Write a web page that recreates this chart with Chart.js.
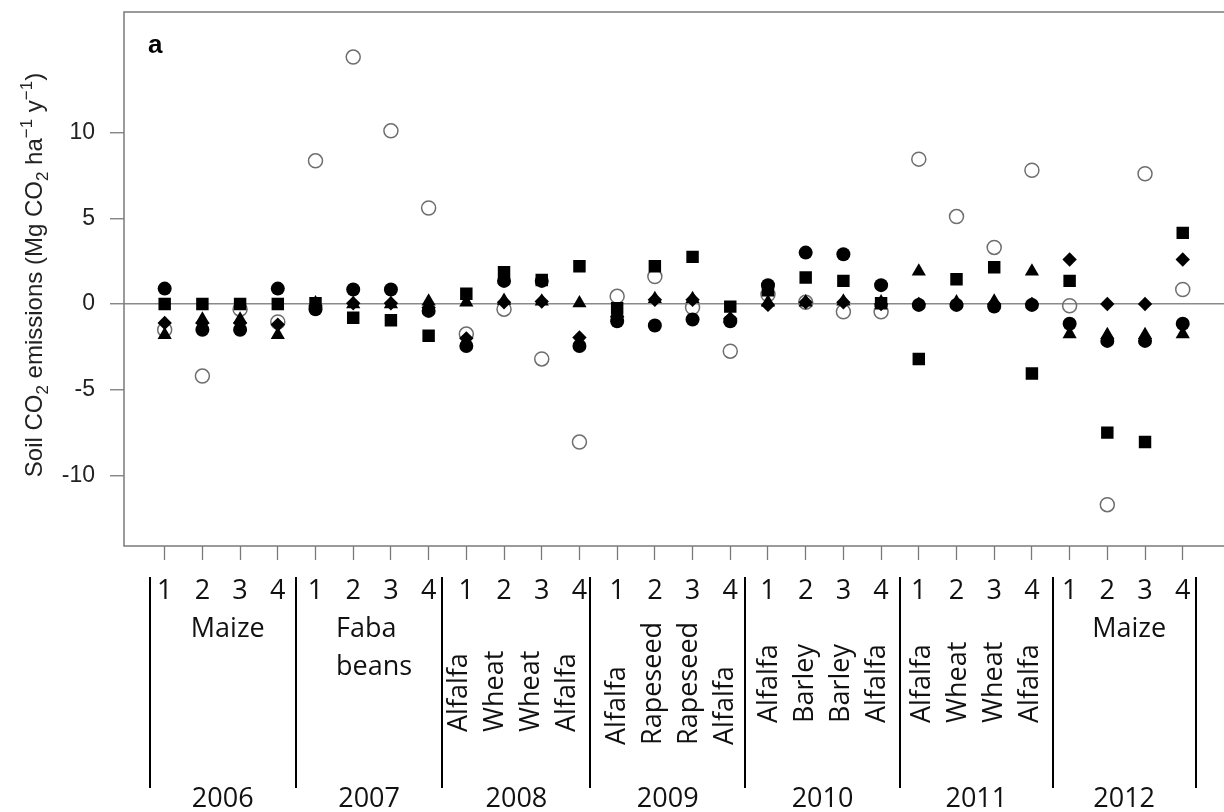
<!DOCTYPE html>
<html>
<head>
<meta charset="utf-8">
<script src="https://cdn.jsdelivr.net/npm/chart.js@4/dist/chart.umd.min.js"></script>
<style>
html, body { margin: 0; padding: 0; background: #fff; overflow: hidden; }
#wrap { position: relative; width: 1260px; height: 812px; }
</style>
</head>
<body>
<div id="wrap"><canvas id="chart"></canvas></div>
<script>
// categories: 7 years x 4 quarters
const years = ['2006', '2007', '2008', '2009', '2010', '2011', '2012'];
const quarters = ['1', '2', '3', '4'];
const crops = [
    'Maize', 'Maize', 'Maize', 'Maize',
    'Faba beans', 'Faba beans', 'Faba beans', 'Faba beans',
    'Alfalfa', 'Wheat', 'Wheat', 'Alfalfa',
    'Alfalfa', 'Rapeseed', 'Rapeseed', 'Alfalfa',
    'Alfalfa', 'Barley', 'Barley', 'Alfalfa',
    'Alfalfa', 'Wheat', 'Wheat', 'Alfalfa',
    'Maize', 'Maize', 'Maize', 'Maize'
];

// series values (Mg CO2 ha-1 y-1), one per quarter
const openCircle = [-1.5, -4.2, -0.3, -1.05, 8.35, 14.4, 10.1, 5.6, -1.75, -0.3, -3.2, -8.05, 0.45, 1.6,
    -0.2, -2.75, 0.55, 0.1, -0.45, -0.45, 8.45, 5.1, 3.3, 7.8, -0.1, -11.7, 7.6, 0.85];
const filledCircle = [0.9, -1.5, -1.5, 0.9, -0.3, 0.85, 0.85, -0.4, -2.45, 1.35, 1.35, -2.45, -1.0, -1.25,
    -0.9, -1.0, 1.1, 3.0, 2.9, 1.1, -0.05, -0.05, -0.15, -0.05, -1.15, -2.15, -2.15, -1.15];
const filledSquare = [0.0, 0.0, 0.0, 0.0, 0.05, -0.8, -0.95, -1.85, 0.6, 1.85, 1.4, 2.2, -0.25, 2.2,
    2.75, -0.15, 0.8, 1.55, 1.35, 0.05, -3.2, 1.45, 2.15, -4.05, 1.35, -7.5, -8.05, 4.15];
const filledTriangle = [-1.8, -0.9, -0.9, -1.8, 0.05, 0.0, 0.0, 0.15, 0.1, 0.2, 0.15, 0.05, -0.5, 0.3,
    0.3, -0.85, 0.1, 0.1, 0.15, 0.1, 1.9, 0.1, 0.15, 1.9, -1.75, -1.8, -1.8, -1.75];
const filledDiamond = [-1.1, -1.1, -1.1, -1.2, -0.1, 0.05, 0.05, -0.2, -2.0, 0.1, 0.15, -1.95, -0.75, 0.25,
    0.25, -0.85, -0.05, 0.1, 0.1, 0.0, 0.0, 0.0, 0.0, 0.0, 2.6, 0.0, 0.0, 2.6];

const yTicks = [-10, -5, 0, 5, 10];

const toPoints = arr => arr.map((v, i) => ({ x: i, y: v }));

const FONT_AXIS = '"Liberation Sans", Arial, sans-serif';
const FONT_TABLE = '"Open Sans", sans-serif';

// extra drawing: frame, panel letter, y title with sub/superscripts, crop table below the axis
const decorPlugin = {
    id: 'decor',
    afterDraw(chart) {
        const ctx = chart.ctx;
        const area = chart.chartArea;
        const xs = chart.scales.x;
        const px = v => xs.getPixelForValue(v);

        ctx.save();
        ctx.strokeStyle = '#7a7a7a';
        ctx.lineWidth = 1.5;
        ctx.strokeRect(area.left, area.top, area.right - area.left, area.bottom - area.top);

        ctx.fillStyle = '#000';
        ctx.font = 'bold 26px ' + FONT_AXIS;
        ctx.textAlign = 'left';
        ctx.textBaseline = 'alphabetic';
        ctx.fillText('a', 148, 53);

        // y axis title
        const parts = [
            { t: 'Soil CO', s: 0 }, { t: '2', s: 1 }, { t: ' emissions (Mg CO', s: 0 }, { t: '2', s: 1 },
            { t: ' ha', s: 0 }, { t: '\u22121', s: -1 }, { t: ' y', s: 0 }, { t: '\u22121', s: -1 }, { t: ')', s: 0 }
        ];
        const fontFor = p => (p.s === 0 ? '24px ' : '17px ') + FONT_AXIS;
        let total = 0;
        parts.forEach(p => { ctx.font = fontFor(p); total += ctx.measureText(p.t).width; });
        ctx.translate(42, 275 + total / 2);
        ctx.rotate(-Math.PI / 2);
        ctx.fillStyle = '#222';
        let cx = 0;
        parts.forEach(p => {
            ctx.font = fontFor(p);
            const dy = p.s === 1 ? 6 : (p.s === -1 ? -10 : 0);
            ctx.fillText(p.t, cx, dy);
            cx += ctx.measureText(p.t).width;
        });
        ctx.restore();

        // table under the x axis (hand-drawn cells, nudged to sit like the original table)
        const edgeNudge = [4, -1, -5, -8, -4, 0, 2, -6];
        const rotNudge = [0, 0, -1.5, 5.5, 6, 9, 0];
        const rotStart = [0, 0, 732, 745, 723, 723, 0];
        const rotStep = 36;
        const edge = g => px(g * 4 - 0.5) + edgeNudge[g];

        ctx.save();
        ctx.fillStyle = '#111';
        ctx.strokeStyle = '#000';
        ctx.lineWidth = 2;
        for (let g = 0; g <= years.length; g++) {
            const x = Math.round(edge(g));
            ctx.beginPath();
            ctx.moveTo(x, 577);
            ctx.lineTo(x, 788);
            ctx.stroke();
        }
        ctx.font = '27px ' + FONT_TABLE;
        ctx.textBaseline = 'alphabetic';
        years.forEach((yr, g) => {
            const mid = (edge(g) + edge(g + 1)) / 2;
            const tickMid = (px(g * 4) + px(g * 4 + 3)) / 2;
            ctx.textAlign = 'center';
            ctx.fillText(yr, mid, 807);
            quarters.forEach((q, k) => ctx.fillText(q, px(g * 4 + k), 599));
            const group = crops.slice(g * 4, g * 4 + 4);
            if (group.every(c => c === group[0])) {
                const lines = group[0].split(' ');
                const w = Math.max(...lines.map(l => ctx.measureText(l).width));
                ctx.textAlign = 'left';
                lines.forEach((l, n) => ctx.fillText(l, mid - w / 2 + 5, 637 + n * 38));
            } else {
                group.forEach((c, k) => {
                    ctx.save();
                    ctx.translate(tickMid + (k - 1.5) * rotStep + rotNudge[g], rotStart[g]);
                    ctx.rotate(-Math.PI / 2);
                    ctx.textAlign = 'left';
                    ctx.fillText(c, 0, 0);
                    ctx.restore();
                });
            }
        });
        ctx.restore();
    }
};

const PLOT_LEFT = 124;
const CANVAS_W = 1260;
const X_STEP = 38;
const xMin = -(165 - PLOT_LEFT) / X_STEP;
const xMax = xMin + (CANVAS_W - PLOT_LEFT) / X_STEP;

new Chart(document.getElementById('chart'), {
    type: 'scatter',
    data: {
        datasets: [
            { label: 'filled circle', data: toPoints(filledCircle), pointStyle: 'circle', pointRadius: 7,
              pointBackgroundColor: '#000', pointBorderColor: '#000', pointBorderWidth: 0 },
            { label: 'filled diamond', data: toPoints(filledDiamond), pointStyle: 'rectRot', pointRadius: 7.2,
              pointBackgroundColor: '#000', pointBorderColor: '#000', pointBorderWidth: 0 },
            { label: 'filled triangle', data: toPoints(filledTriangle), pointStyle: 'triangle', pointRadius: 8.2,
              pointBackgroundColor: '#000', pointBorderColor: '#000', pointBorderWidth: 0 },
            { label: 'filled square', data: toPoints(filledSquare), pointStyle: 'rect', pointRadius: 8.8,
              pointBackgroundColor: '#000', pointBorderColor: '#000', pointBorderWidth: 0 },
            { label: 'open circle', data: toPoints(openCircle), pointStyle: 'circle', pointRadius: 7,
              pointBackgroundColor: 'rgba(0,0,0,0)', pointBorderColor: '#6e6e6e', pointBorderWidth: 1.5 }
        ]
    },
    options: {
        responsive: true,
        maintainAspectRatio: false,
        animation: false,
        events: [],
        layout: { padding: { top: 12, left: 0, right: 0, bottom: 0 } },
        plugins: { legend: { display: false }, tooltip: { enabled: false } },
        scales: {
            x: {
                type: 'linear',
                min: xMin,
                max: xMax,
                afterBuildTicks: s => { s.ticks = crops.map((c, i) => ({ value: i })); },
                afterFit: s => { s.height = 812 - 546; s.paddingLeft = 0; s.paddingRight = 0; },
                ticks: { display: false },
                border: { display: false },
                grid: { drawOnChartArea: false, drawTicks: true, tickLength: 14, tickColor: '#7a7a7a', tickWidth: 1.3 }
            },
            y: {
                min: -14.11,
                max: 17.03,
                afterBuildTicks: s => { s.ticks = yTicks.map(v => ({ value: v })); },
                afterFit: s => { s.width = PLOT_LEFT; s.paddingTop = 0; s.paddingBottom = 0; },
                ticks: { font: { family: FONT_AXIS, size: 23 }, color: '#222', padding: 15,
                         callback: v => String(v) },
                border: { display: false },
                grid: {
                    color: c => (c.tick && c.tick.value === 0 ? '#8a8a8a' : 'rgba(0,0,0,0)'),
                    lineWidth: 1.5,
                    drawTicks: true, tickLength: 14, tickColor: '#7a7a7a', tickWidth: 1.3
                }
            }
        }
    },
    plugins: [decorPlugin]
});
</script>
</body>
</html>
